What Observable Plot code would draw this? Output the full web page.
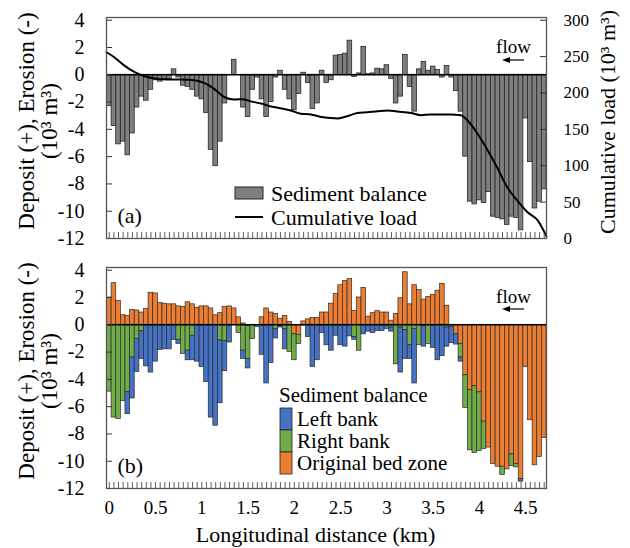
<!DOCTYPE html>
<html><head><meta charset="utf-8">
<script src="https://cdn.jsdelivr.net/npm/d3@7"></script>
<script src="https://cdn.jsdelivr.net/npm/@observablehq/plot@0.6"></script>
<style>
body{margin:0;background:#fff;}
#chart{position:relative;width:630px;height:548px;background:#fff;}
#chart svg{position:absolute;left:0;}
#chart svg, #chart svg text{font-family:'Liberation Serif', serif !important;}
</style></head><body><div id="chart"></div>
<script>
// ---------- data ----------
const distanceKm = [
0,0.05,0.1,0.15,0.2,0.25,0.3,0.35,0.4,0.45,
0.5,0.55,0.6,0.65,0.7,0.75,0.8,0.85,0.9,0.95,
1,1.05,1.1,1.15,1.2,1.25,1.3,1.35,1.4,1.45,
1.5,1.55,1.6,1.65,1.7,1.75,1.8,1.85,1.9,1.95,
2,2.05,2.1,2.15,2.2,2.25,2.3,2.35,2.4,2.45,
2.5,2.55,2.6,2.65,2.7,2.75,2.8,2.85,2.9,2.95,
3,3.05,3.1,3.15,3.2,3.25,3.3,3.35,3.4,3.45,
3.5,3.55,3.6,3.65,3.7,3.75,3.8,3.85,3.9,3.95,
4,4.05,4.1,4.15,4.2,4.25,4.3,4.35,4.4,4.45,
4.5,4.55,4.6,4.65,4.7];

// panel (a): sediment balance (10^3 m3)
const balance = [
-2.3,-3.75,-5.1,-4.9,-5.9,-4.3,-2.4,-1.6,-1.9,-1.1,
-0.4,-0.5,-0.3,-0.3,0.4,-0.2,-0.8,-0.9,-1.1,-1.6,
-1.8,-2.8,-5.5,-6.7,-4.9,-2.1,0,1.1,0,-2.4,
-3.1,-1.1,-0.2,-1.8,-3.1,-2.0,-0.2,0.3,-1.1,-1.8,
-2.6,-1.4,0.15,-0.6,-2.5,-2.1,0.3,-0.6,-0.4,1.4,
1.45,1.55,2.5,-0.15,0.1,2.05,0.05,0.1,0.45,0.4,
0.7,-0.3,-2.1,-1.6,1.45,-0.9,-2.7,0.4,0.95,0.3,
0.6,0.35,-0.2,0.65,-0.2,-1.2,-2.7,-6.0,-9.3,-9.5,
-9.2,-9.4,-8.6,-10.4,-10.5,-10.6,-11.0,-10.4,-10.5,-11.4,
-3.2,-6.4,-9.8,-9.3,-8.4];

// panel (b): components
const bedZone = [
2.0,3.05,1.75,0.7,0.65,1.1,1.05,0.9,1.15,2.35,
2.3,1.6,1.55,1.5,1.5,1.35,1.3,1.65,1.5,1.25,
1.35,1.35,1.2,0.7,0.85,1.3,1.35,1.2,0.55,0.1,
-0.1,0,0,0.55,1.2,0.9,0.8,0.45,0.65,0.2,
-0.7,-0.75,0.25,0.4,0.5,0.5,0.9,0.9,1.55,2.25,
2.9,3.2,3.35,1.0,2.0,2.7,0.6,0.85,1.0,0.9,
0.9,0.3,0.8,1.95,3.85,1.5,2.9,2.55,1.85,2.05,
2.2,2.5,3.0,1.4,-0.15,-0.7,-1.4,-3.7,-4.8,-4.5,
-4.95,-7.1,-9.0,-10.2,-10.4,-10.4,-10.6,-9.5,-10.2,-11.3,
-3.1,-7.0,-10.3,-9.7,-8.3];
const rightBank = [
-4.9,-6.8,-6.9,-5.6,-4.95,-2.4,-1.05,-0.45,0,0,
0,0,0,0,0,-1.1,-2.15,-1.9,-0.8,0,
0,0,0,0,-1.15,-1.2,0,0,-0.6,-1.9,
-2.4,-1.05,0,0,0,0,-0.3,-0.1,-0.3,-2.0,
-1.9,-0.65,0,0,0,0,0,0,0,0,
0,0,0,-0.9,-1.9,0,0,0,0,0,
0,-0.2,-2.9,-0.2,-0.4,-1.5,-0.3,-1.5,-0.1,-1.4,
0,0,0,-0.2,0,0,-1.0,-2.4,-4.4,-4.9,
-4.3,-2.0,0,0,0,-0.6,0,-0.85,-0.25,0,
0,0,0,0,0];
const leftBank = [
0,0,0,0,-1.6,-3.0,-2.4,-2.05,-3.05,-3.5,
-2.7,-1.85,-1.8,-1.8,-1.1,-0.3,0,-0.7,-1.8,-2.7,
-3.1,-4.2,-6.8,-7.4,-4.6,-2.2,-1.3,0,0,-0.6,
-0.7,0,-0.15,-2.2,-4.3,-2.8,-0.7,-0.1,-1.5,0,
0,0,-0.05,-0.9,-3.1,-2.6,-0.6,-1.5,-1.9,-0.8,
-1.5,-1.6,-0.85,-0.2,0,-0.7,-0.5,-0.6,-0.45,-0.45,
-0.3,-0.3,0,-3.3,-2.1,-1.0,-4.0,0,-1.5,0,
-1.7,-2.6,-2.3,-1.4,-1.2,-0.75,-0.3,0,0,0,
0,0,0,0,0,0,0,0,0,-0.2,
0,0,0,0,0];

// cumulative load (10^3 m3)
const loadKm = [-0.03,0.05,0.16,0.27,0.38,0.49,0.63,0.77,0.92,1.03,1.13,1.24,1.35,1.44,1.53,1.64,1.75,1.85,1.96,2.07,2.18,2.29,2.39,2.47,2.57,2.68,2.79,2.9,3.01,3.11,3.26,3.37,3.47,3.58,3.69,3.8,3.87,3.98,4.09,4.19,4.3,4.41,4.52,4.63,4.725];
const loadValue = [256,249.5,238,229,223,220,218.5,218.5,217.5,213.5,206,194.5,191,191.5,188.5,185.5,181.5,179,176,171.5,170.5,167,165.5,165,168,172.5,173.5,175,176,174.5,172.5,169.5,170.5,170.5,170.5,169.5,162.5,144,121,98,70.5,52,36,25,3];

const leftTicks = [4,2,0,-2,-4,-6,-8,-10,-12];
const loadTicks = [0,50,100,150,200,250,300];
const xLabels = [0,0.5,1,1.5,2,2.5,3,3.5,4,4.5];
const components = ["Original bed zone","Right bank","Left bank"];
const compColors = ["#ED7D31","#70AD47","#4472C4"];

// ---------- helpers ----------
const font = "'Liberation Serif', serif";
const half = 0.025;
const xDomain = [-0.03, 4.725];
const yDomain = [-12, 4.2];
// right axis: 0..300 maps onto -12..4 of the left axis
const loadToLeft = v => -12 + v * 16 / 300;
const leftToLoad = v => (v + 12) * 300 / 16;

const tableA = distanceKm.map((x, i) => ({x, v: balance[i]})).filter(d => d.v !== 0);
const tableB = [];
distanceKm.forEach((x, i) => {
  [bedZone[i], rightBank[i], leftBank[i]].forEach((v, j) => {
    if (v !== 0) tableB.push({x, v, comp: components[j]});
  });
});
const tableLoad = loadKm.map((x, i) => ({x, load: loadValue[i]}));

const common = {
  width: 630, marginLeft: 106, marginRight: 84, marginTop: 17,
  style: {fontFamily: font, background: "#fff", color: "#000"}
};
const centered = {textAnchor: "middle", lineAnchor: "middle"};

function yTitle() {
  return [
    Plot.text(["Deposit (+), Erosion (-)"], {frameAnchor: "left", dx: -80, dy: -7, rotate: -90, fontSize: 23, ...centered}),
    Plot.text(["(10³ m³)"], {frameAnchor: "left", dx: -57, dy: -7, rotate: -90, fontSize: 23, ...centered})
  ];
}
function cornerTexts(label) {
  return [
    Plot.text([label], {frameAnchor: "bottom-left", dx: 11, dy: -23, textAnchor: "start", lineAnchor: "middle", fontSize: 22}),
    Plot.text(["flow"], {frameAnchor: "top-right", dx: -33, dy: 29, fontSize: 19, ...centered})
  ];
}

// ---------- panel (a) ----------
const plotA = Plot.plot({
  ...common, height: 250, marginBottom: 12,
  x: {domain: xDomain, axis: null},
  y: {domain: yDomain},
  marks: [
    Plot.rectY(tableA, {x1: d => d.x - half, x2: d => d.x + half, y1: 0, y2: "v",
      fill: "#7f7f7f", stroke: "#262626", strokeWidth: 0.8}),
    Plot.ruleY([0], {stroke: "#000", strokeWidth: 1.4}),
    Plot.line(tableLoad, {x: "x", y: d => loadToLeft(d.load), curve: "monotone-x",
      stroke: "#000", strokeWidth: 2}),
    Plot.ruleY(leftTicks, {insetRight: 434, stroke: "#333"}),
    Plot.ruleY(loadTicks.map(loadToLeft), {insetLeft: 434, stroke: "#333"}),
    Plot.ruleX(distanceKm, {insetTop: 215, stroke: "#333", strokeWidth: 0.8}),
    Plot.frame({stroke: "#555", strokeWidth: 1.3}),
    Plot.axisY(leftTicks, {anchor: "left", tickSize: 0, tickPadding: 22, fontSize: 20,
      tickFormat: d => String(d), label: null}),
    Plot.axisY(loadTicks.map(loadToLeft), {anchor: "right", tickSize: 0, tickPadding: 17, fontSize: 17,
      tickFormat: v => String(Math.round(leftToLoad(v))), label: null}),
    ...yTitle(),
    Plot.text(["Cumulative load (10³ m³)"], {frameAnchor: "right", dx: 61, dy: -6, rotate: -90, fontSize: 22, ...centered}),
    ...cornerTexts("(a)")
  ]
});

// ---------- panel (b) ----------
const plotB = Plot.plot({
  ...common, height: 298, marginBottom: 60,
  x: {domain: xDomain},
  y: {domain: yDomain},
  color: {domain: components, range: compColors},
  marks: [
    Plot.rectY(tableB, {x1: d => d.x - half, x2: d => d.x + half, y: "v", fill: "comp",
      order: components, stroke: "#2b2b2b", strokeWidth: 0.7}),
    Plot.ruleY([0], {stroke: "#000", strokeWidth: 1.4}),
    Plot.ruleY(leftTicks, {insetRight: 434, stroke: "#333"}),
    Plot.ruleX(distanceKm, {insetTop: 215, stroke: "#333", strokeWidth: 0.8}),
    Plot.frame({stroke: "#555", strokeWidth: 1.3}),
    Plot.axisY(leftTicks, {anchor: "left", tickSize: 0, tickPadding: 22, fontSize: 20,
      tickFormat: d => String(d), label: null}),
    Plot.axisX(xLabels, {anchor: "bottom", tickSize: 0, tickPadding: 12, fontSize: 19,
      tickFormat: d => String(d), label: null}),
    ...yTitle(),
    Plot.text(["Longitudinal distance (km)"], {frameAnchor: "bottom", dx: -11, dy: 46, fontSize: 22, ...centered}),
    ...cornerTexts("(b)")
  ]
});

plotA.style.top = "0px";
plotB.style.top = "250px";
const chart = document.getElementById("chart");
chart.appendChild(plotA);
chart.appendChild(plotB);

// ---------- annotations / legends ----------
function addArrow(svg, y) {
  const g = d3.select(svg).append("g");
  g.append("line").attr("x1", 524).attr("x2", 507).attr("y1", y).attr("y2", y)
    .attr("stroke", "#000").attr("stroke-width", 1.2);
  g.append("path").attr("d", `M502,${y}L510,${y - 3}L510,${y + 3}Z`).attr("fill", "#000");
}
addArrow(plotA, 60);
addArrow(plotB, 59);

const gA = d3.select(plotA).append("g").attr("font-size", 22).attr("fill", "#000").attr("text-anchor", "start");
gA.append("rect").attr("x", 235).attr("y", 187).attr("width", 28).attr("height", 12)
  .attr("fill", "#7f7f7f").attr("stroke", "#262626");
gA.append("text").attr("x", 271).attr("y", 201).text("Sediment balance");
gA.append("line").attr("x1", 235).attr("x2", 263).attr("y1", 217).attr("y2", 217)
  .attr("stroke", "#000").attr("stroke-width", 2);
gA.append("text").attr("x", 271).attr("y", 225).text("Cumulative load");

const gB = d3.select(plotB).append("g").attr("font-size", 21).attr("fill", "#000").attr("text-anchor", "start");
gB.append("text").attr("x", 279).attr("y", 152).text("Sediment balance");
const legendItems = [["Left bank", "#4472C4"], ["Right bank", "#70AD47"], ["Original bed zone", "#ED7D31"]];
legendItems.forEach(([label, color], i) => {
  gB.append("rect").attr("x", 280).attr("y", 158 + i * 22).attr("width", 12).attr("height", 22)
    .attr("fill", color).attr("stroke", "#222").attr("stroke-width", 0.8);
  gB.append("text").attr("x", 297).attr("y", 176 + i * 22).text(label);
});
</script></body></html>
